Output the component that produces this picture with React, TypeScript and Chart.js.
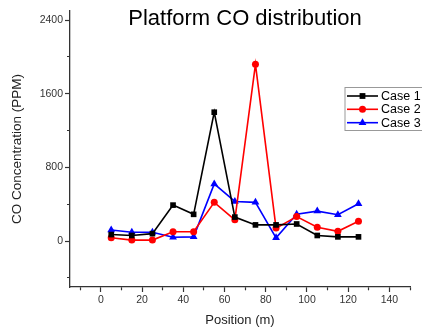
import React, { useEffect, useRef } from 'react';
import { Chart, registerables } from 'chart.js';

Chart.register(...registerables);

const chartTitle = 'Platform CO distribution';
const xAxisTitle = 'Position (m)';
const yAxisTitle = 'CO Concentration (PPM)';

const positions = [5, 15, 25, 35, 45, 55, 65, 75, 85, 95, 105, 115, 125];
const case1 = [70, 60, 80, 390, 290, 1400, 260, 175, 175, 185, 60, 45, 45];
const case2 = [35, 10, 10, 100, 100, 420, 230, 1920, 140, 265, 150, 105, 215];
const case3 = [120, 95, 95, 40, 45, 620, 430, 420, 35, 290, 325, 285, 405];

const seriesNames = ['Case 1', 'Case 2', 'Case 3'];
const seriesColors = ['#000000', '#ff0000', '#0000ff'];
const seriesMarkers = ['rect', 'circle', 'triangle'];

const xMajorLabels = [0, 20, 40, 60, 80, 100, 120, 140];
const yMajorLabels = [0, 800, 1600, 2400];

const FONT = "'Liberation Sans', Arial, sans-serif";

function drawMarker(ctx: CanvasRenderingContext2D, style: string, x: number, y: number, color: string) {
  ctx.save();
  ctx.fillStyle = color;
  ctx.beginPath();
  if (style === 'rect') {
    ctx.rect(x - 2.9, y - 2.9, 5.8, 5.8);
  } else if (style === 'circle') {
    ctx.arc(x, y, 3.5, 0, Math.PI * 2);
  } else {
    const r = 4.5;
    ctx.moveTo(x, y - r);
    ctx.lineTo(x + r * 0.866, y + r * 0.5);
    ctx.lineTo(x - r * 0.866, y + r * 0.5);
    ctx.closePath();
  }
  ctx.fill();
  ctx.restore();
}

const overlayPlugin = {
  id: 'overlay',
  afterDraw(chart: any) {
    const ctx: CanvasRenderingContext2D = chart.ctx;
    ctx.save();
    // title
    ctx.fillStyle = '#000';
    ctx.font = `22px ${FONT}`;
    ctx.textAlign = 'center';
    ctx.textBaseline = 'alphabetic';
    ctx.fillText(chartTitle, 245, 25);

    // legend
    const bx = 345, by = 87.5, bw = 80, bh = 43;
    ctx.strokeStyle = '#999';
    ctx.lineWidth = 1;
    ctx.strokeRect(bx, by, bw, bh);
    ctx.font = `12.5px ${FONT}`;
    ctx.textAlign = 'left';
    ctx.textBaseline = 'middle';
    const rows = [96, 109.3, 122.7];
    seriesNames.forEach((name, i) => {
      const y = rows[i];
      ctx.strokeStyle = seriesColors[i];
      ctx.lineWidth = 1.6;
      ctx.beginPath();
      ctx.moveTo(347, y);
      ctx.lineTo(378, y);
      ctx.stroke();
      drawMarker(ctx, seriesMarkers[i], 362.5, y, seriesColors[i]);
      ctx.fillStyle = '#000';
      ctx.fillText(name, 381, y + 0.5);
    });
    ctx.restore();
  },
};

export default function App() {
  const canvasRef = useRef<HTMLCanvasElement>(null);

  useEffect(() => {
    if (!canvasRef.current) return;
    const series = [case1, case2, case3];
    const chart = new Chart(canvasRef.current, {
      type: 'line',
      data: {
        datasets: series.map((vals, i) => ({
          label: seriesNames[i],
          data: positions.map((x, j) => ({ x, y: vals[j] })),
          borderColor: seriesColors[i],
          backgroundColor: seriesColors[i],
          pointBackgroundColor: seriesColors[i],
          pointBorderColor: seriesColors[i],
          pointStyle: seriesMarkers[i] as any,
          pointRadius: i === 0 ? 4 : i === 1 ? 3.5 : 4.5,
          pointBorderWidth: 0,
          borderWidth: 1.6,
          tension: 0,
          fill: false,
        })),
      },
      options: {
        animation: false,
        responsive: true,
        maintainAspectRatio: false,
        layout: { padding: { top: 11, right: 12, left: 0, bottom: 0 } },
        plugins: {
          legend: { display: false },
          title: { display: false },
          tooltip: { enabled: false },
        },
        scales: {
          x: {
            type: 'linear',
            min: -15,
            max: 150,
            afterFit: (scale: any) => { scale.height = 46; },
            border: { display: true, color: '#333', width: 1.3 },
            grid: {
              display: true,
              drawOnChartArea: false,
              drawTicks: true,
              tickLength: 5,
              tickColor: '#333',
              tickWidth: 1.2,
              tickBorderDash: (ctx: any) => (xMajorLabels.includes(ctx.tick?.value) ? [] : [3, 10]),
            } as any,
            ticks: {
              stepSize: 10,
              includeBounds: false,
              autoSkip: false,
              maxRotation: 0,
              padding: 2,
              color: '#333',
              font: { family: FONT, size: 10.5 },
              callback: (v: any) => (xMajorLabels.includes(Number(v)) ? String(v) : ''),
            },
            title: {
              display: true,
              text: xAxisTitle,
              color: '#222',
              font: { family: FONT, size: 13 },
              padding: { top: 0, bottom: 5 },
            },
          },
          y: {
            type: 'linear',
            min: -500,
            max: 2500,
            afterFit: (scale: any) => { scale.width = 70; },
            border: { display: true, color: '#333', width: 1.3 },
            grid: {
              display: true,
              drawOnChartArea: false,
              drawTicks: true,
              tickLength: 5,
              tickColor: '#333',
              tickWidth: 1.2,
              tickBorderDash: (ctx: any) => (yMajorLabels.includes(ctx.tick?.value) ? [] : [3, 10]),
              tickBorderDashOffset: (ctx: any) => (yMajorLabels.includes(ctx.tick?.value) ? 0 : 11),
            } as any,
            ticks: {
              stepSize: 400,
              includeBounds: false,
              autoSkip: false,
              padding: 2,
              color: '#333',
              font: { family: FONT, size: 10.5 },
              callback: (v: any) => (yMajorLabels.includes(Number(v)) ? String(v) : ''),
            },
            title: {
              display: true,
              text: yAxisTitle,
              color: '#222',
              font: { family: FONT, size: 13.5 },
              padding: { top: 9, bottom: 0 },
            },
          },
        },
      },
      plugins: [overlayPlugin],
    });
    return () => chart.destroy();
  }, []);

  return (
    <div style={{ position: 'absolute', left: 0, top: 0, width: 422, height: 333, background: '#fff' }}>
      <canvas ref={canvasRef} />
    </div>
  );
}
